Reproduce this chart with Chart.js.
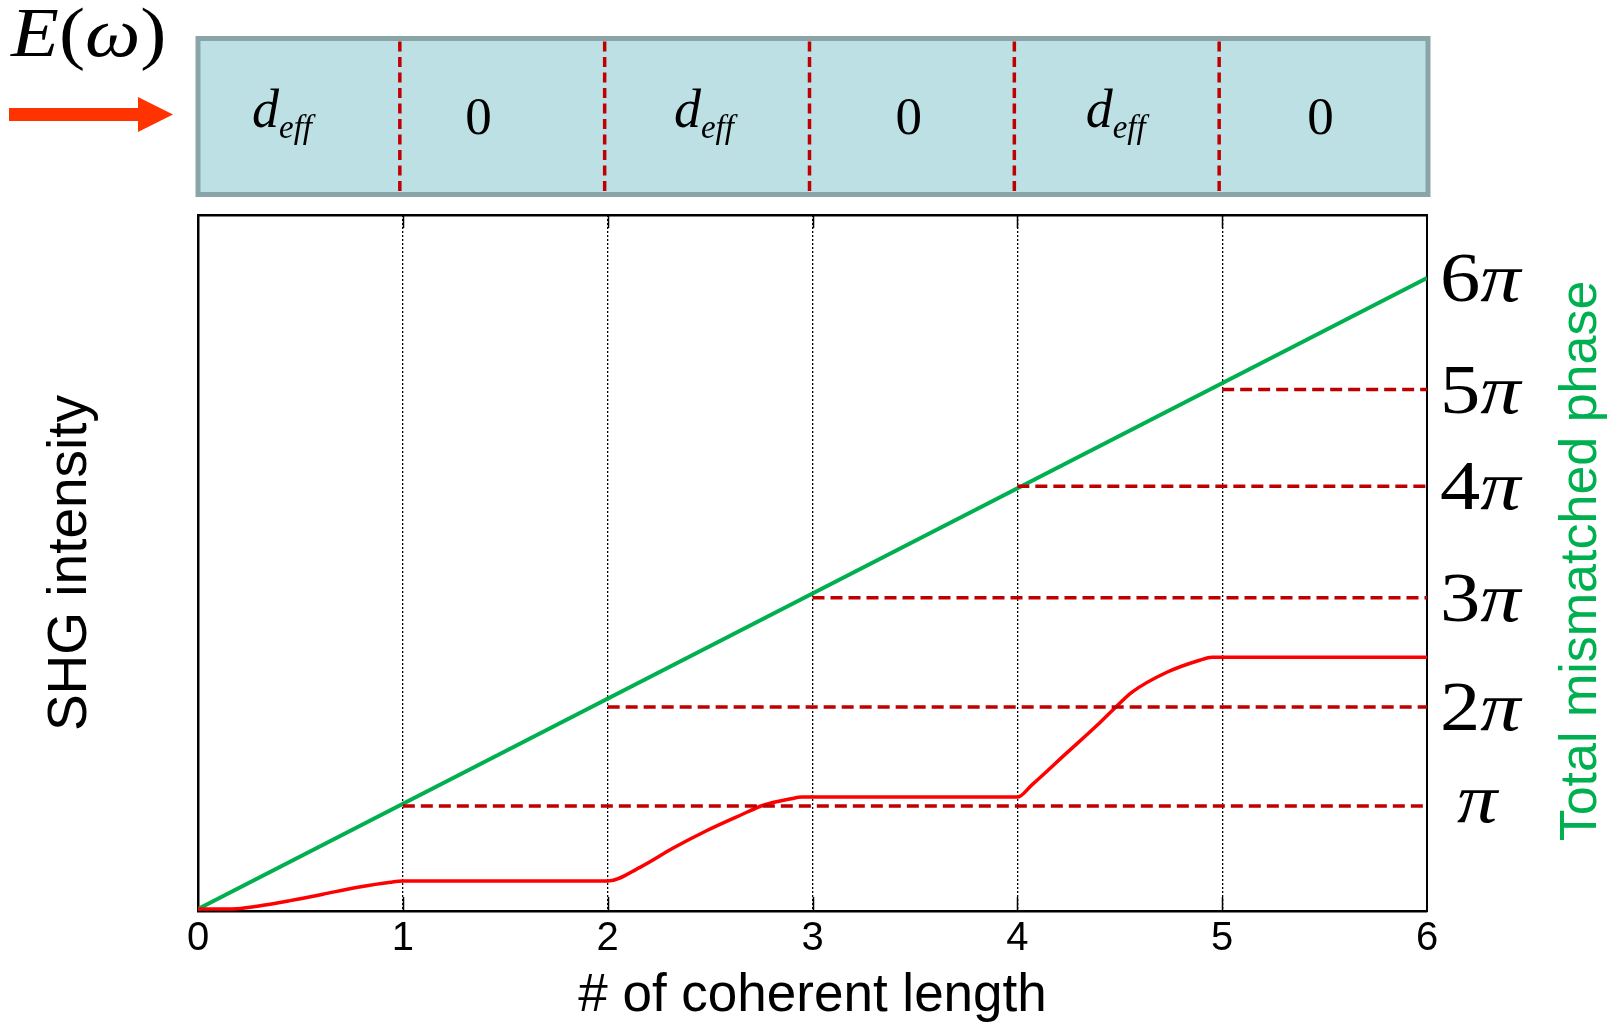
<!DOCTYPE html>
<html>
<head>
<meta charset="utf-8">
<script src="https://cdn.jsdelivr.net/npm/chart.js@4.4.1/dist/chart.umd.min.js"></script>
<style>
  html, body { margin: 0; padding: 0; background: #fff; }
  canvas { display: block; }
</style>
</head>
<body>
<canvas id="qpm" width="1614" height="1023"></canvas>
<script>
// # of coherent length
let xTicks = [0, 1, 2, 3, 4, 5, 6];

// SHG intensity (red curve)
let shgX = [0, 0.17, 0.29, 0.45, 0.61, 0.78, 0.94, 1, 2, 2.16, 2.32, 2.48, 2.65, 2.76, 2.89, 2.95, 3, 4, 4.07, 4.24, 4.40, 4.48, 4.56, 4.73, 4.89, 4.95, 5, 6];
let shgY = [0, 0, 0.1, 0.3, 0.53, 0.78, 0.96, 1, 1, 1.5, 2.18, 2.79, 3.36, 3.71, 3.93, 4, 4, 4, 4.43, 5.57, 6.64, 7.21, 7.75, 8.46, 8.89, 9, 9, 9];

// total mismatched phase (green line), in units of pi
let phaseX = [0, 6];
let phaseY = [0, 6];

// dashed reference levels, start at each boundary
let refStart = [1, 2, 3, 4, 5];
let refLevel = [0.98, 1.92, 2.96, 4.02, 4.94];

// right axis labels
let phaseTicks = [0.98, 1.92, 2.96, 4.02, 4.94, 6];
let phaseLabels = ['π', '2π', '3π', '4π', '5π', '6π'];

// crystal domains on top
let segNames = ['deff', '0', 'deff', '0', 'deff', '0'];

const SANS = "'Liberation Sans', Arial, sans-serif";
const SERIF = "'Liberation Serif', 'Times New Roman', serif";

// draws text runs with mixed fonts, sx = horizontal stretch
function drawRuns(ctx, runs, x, y, sx = 1) {
    ctx.save();
    ctx.translate(x, y);
    ctx.scale(sx, 1);
    let cx = 0;
    runs.forEach(r => {
        ctx.font = r[1];
        ctx.fillText(r[0], cx, r[2] || 0);
        cx += ctx.measureText(r[0]).width;
    });
    ctx.restore();
}
function runsWidth(ctx, runs, sx = 1) {
    let w = 0;
    runs.forEach(r => { ctx.font = r[1]; w += ctx.measureText(r[0]).width; });
    return w * sx;
}

const extras = {
    id: 'extras',
    afterDraw(chart) {
        const ctx = chart.ctx;
        const xs = chart.scales.x;
        const yp = chart.scales.yp;
        const area = chart.chartArea;
        ctx.save();

        // inward tick marks top and bottom
        ctx.strokeStyle = '#000';
        ctx.lineWidth = 1.5;
        xTicks.slice(1, -1).forEach(v => {
            const px = Math.round(xs.getPixelForValue(v)) + 0.5;
            ctx.beginPath();
            ctx.moveTo(px, area.bottom);
            ctx.lineTo(px, area.bottom - 14);
            ctx.moveTo(px, area.top);
            ctx.lineTo(px, area.top + 13);
            ctx.stroke();
        });

        // crystal box
        const x0 = xs.getPixelForValue(0), x6 = xs.getPixelForValue(6);
        const bt = 38.5, bb = 194.5;
        ctx.fillStyle = '#bce0e3';
        ctx.fillRect(x0, bt, x6 - x0, bb - bt);
        ctx.strokeStyle = '#8aa5a8';
        ctx.lineWidth = 5;
        ctx.strokeRect(x0, bt, x6 - x0 + 1, bb - bt);

        ctx.strokeStyle = '#c00000';
        ctx.lineWidth = 3.5;
        ctx.setLineDash([10, 5.5]);
        for (let i = 1; i < segNames.length; i++) {
            const px = xs.getPixelForValue(i) - 3;
            ctx.beginPath();
            ctx.moveTo(px, bt + 3);
            ctx.lineTo(px, bb - 2);
            ctx.stroke();
        }
        ctx.setLineDash([]);

        ctx.fillStyle = '#000';
        ctx.textBaseline = 'alphabetic';
        const nudge = [-0.09, -0.13, -0.03, -0.03, -0.02, -0.02];
        segNames.forEach((s, i) => {
            const cx = xs.getPixelForValue(i + 0.5 + nudge[i]);
            let runs;
            if (s === 'deff') {
                runs = [['d', 'italic 54px ' + SERIF], ['eff', 'italic 33px ' + SERIF, 11]];
                drawRuns(ctx, runs, cx - runsWidth(ctx, runs) / 2, 127);
            } else {
                runs = [[s, '53px ' + SERIF]];
                drawRuns(ctx, runs, cx - runsWidth(ctx, runs) / 2, 134);
            }
        });

        // E(omega) and arrow
        drawRuns(ctx, [['E', 'italic 70px ' + SERIF], ['(', '70px ' + SERIF], ['ω', 'italic 70px ' + SERIF], [')', '70px ' + SERIF]], 11, 56, 1.12);
        ctx.fillStyle = '#ff3300';
        ctx.fillRect(9, 108, 131, 13);
        ctx.beginPath();
        ctx.moveTo(138, 97);
        ctx.lineTo(173, 114.5);
        ctx.lineTo(138, 132);
        ctx.closePath();
        ctx.fill();

        // right axis labels (digit upright, pi italic)
        ctx.fillStyle = '#000';
        phaseTicks.forEach((v, i) => {
            const py = yp.getPixelForValue(v);
            const lab = phaseLabels[i];
            if (lab === 'π') {
                drawRuns(ctx, [['π', 'italic 70px ' + SERIF]], 1457, py + 16, 1.15);
            } else {
                drawRuns(ctx, [[lab.slice(0, -1), '70px ' + SERIF], ['π', 'italic 70px ' + SERIF]], 1440, py + 23, 1.15);
            }
        });

        // right axis title, reads bottom to top
        ctx.translate(1582, (area.top + area.bottom) / 2 - 2);
        ctx.rotate(-Math.PI / 2);
        ctx.textAlign = 'center';
        ctx.textBaseline = 'middle';
        ctx.font = '52px ' + SANS;
        ctx.fillStyle = '#00b050';
        ctx.fillText('Total mismatched phase', 0, 0);
        ctx.restore();
    }
};

let datasets = [];
refStart.forEach((s, i) => {
    datasets.push({
        data: [{x: s, y: refLevel[i]}, {x: 6, y: refLevel[i]}],
        yAxisID: 'yp',
        borderColor: '#c00000',
        borderWidth: 3.5,
        borderDash: [12, 6],
        pointRadius: 0,
        order: 0
    });
});
datasets.push({
    data: shgX.map((x, i) => ({x: x, y: shgY[i]})),
    yAxisID: 'y',
    borderColor: '#ff0000',
    borderWidth: 3.5,
    pointRadius: 0,
    cubicInterpolationMode: 'monotone',
    order: 1
});
datasets.push({
    data: phaseX.map((x, i) => ({x: x, y: phaseY[i]})),
    yAxisID: 'yp',
    borderColor: '#00b050',
    borderWidth: 4,
    pointRadius: 0,
    order: 2
});

var ctx1 = document.getElementById('qpm');
var qpmchart = new Chart(ctx1, {
    type: 'line',
    data: { datasets: datasets },
    plugins: [extras],
    options: {
        responsive: false,
        animation: false,
        layout: { padding: 0 },
        plugins: {
            legend: { display: false },
            tooltip: { enabled: false }
        },
        scales: {
            x: {
                type: 'linear',
                position: 'bottom',
                min: 0,
                max: 6,
                afterBuildTicks: s => { s.ticks = xTicks.map(v => ({value: v})); },
                ticks: {
                    color: '#000',
                    padding: 4,
                    font: { family: SANS, size: 40 }
                },
                grid: {
                    color: c => (c.tick && c.tick.value > 0 && c.tick.value < 6) ? '#000' : 'rgba(0,0,0,0)',
                    lineWidth: 1.3,
                    drawTicks: false
                },
                border: { color: '#000', width: 2.5, dash: [2, 2] },
                title: {
                    display: true,
                    text: '# of coherent length',
                    color: '#000',
                    font: { family: SANS, size: 53 },
                    padding: { top: 0, bottom: -5 }
                },
                afterFit: s => { s.height = 112; }
            },
            xTop: {
                type: 'linear',
                position: 'top',
                min: 0,
                max: 6,
                ticks: { display: false },
                grid: { display: false },
                border: { color: '#000', width: 2.5 },
                afterFit: s => { s.height = 215; }
            },
            y: {
                position: 'left',
                min: -0.07,
                max: 24.8,
                ticks: { display: false },
                grid: { display: false },
                border: { color: '#000', width: 2.5 },
                title: {
                    display: true,
                    text: 'SHG intensity',
                    color: '#000',
                    font: { family: SANS, size: 55 },
                    padding: { top: 38, bottom: 0 }
                },
                afterFit: s => { s.width = 198; }
            },
            yp: {
                position: 'right',
                min: -0.019,
                max: 6.6,
                ticks: { display: false },
                grid: { display: false },
                border: { color: '#000', width: 2 },
                afterFit: s => { s.width = 187; }
            }
        }
    }
});
</script>
</body>
</html>
